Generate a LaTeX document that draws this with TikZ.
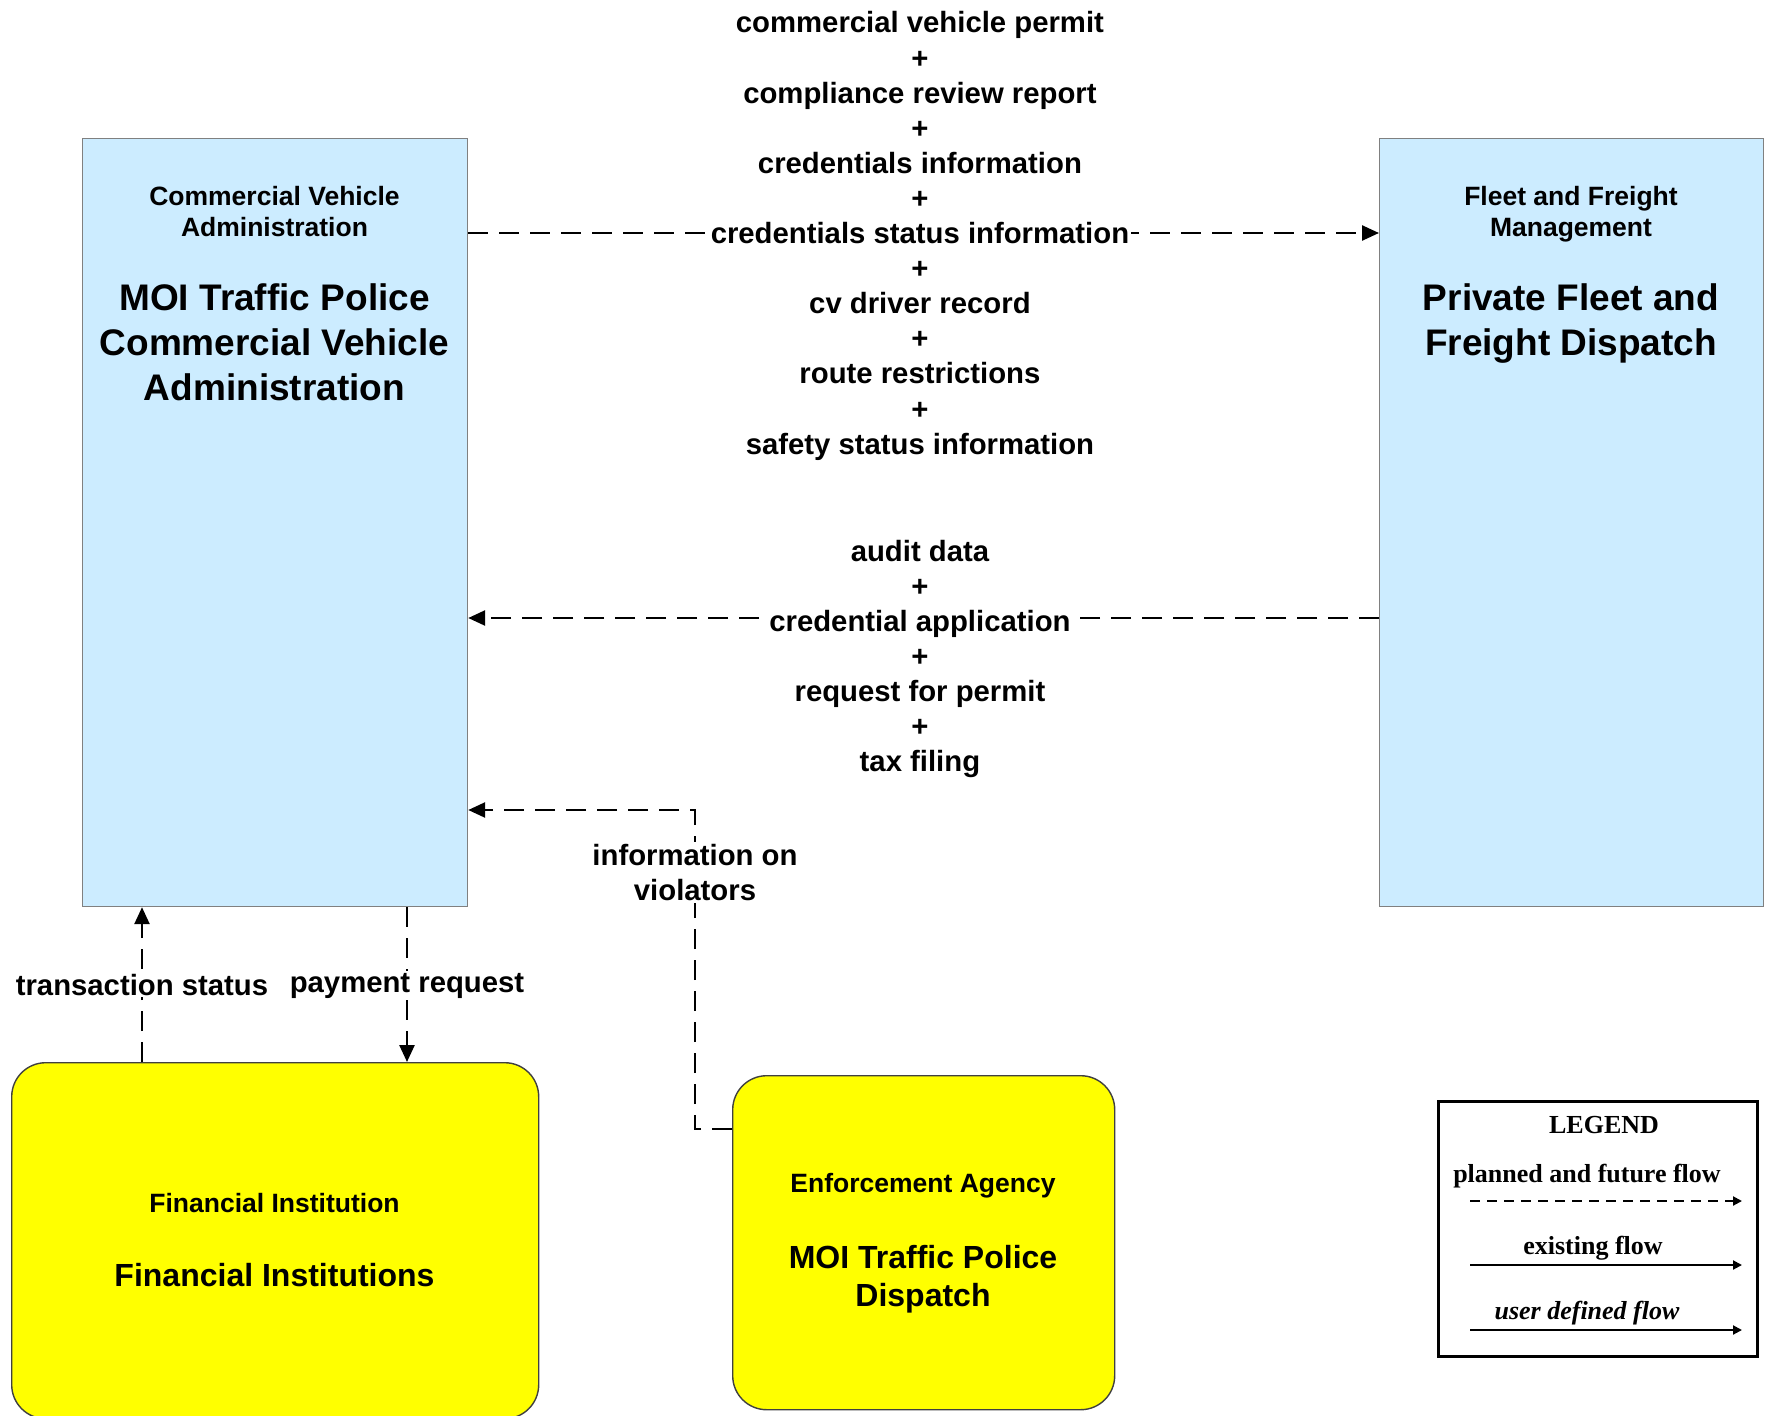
\documentclass[tikz,border=0pt]{standalone}
\usepackage{fontspec}
\setmainfont{Liberation Sans}
\newfontfamily\legendfont{Liberation Serif}
\usetikzlibrary{arrows.meta,calc}
\definecolor{boxblue}{HTML}{CCECFF}
\definecolor{boxyellow}{HTML}{FFFF00}
\begin{document}
\begin{tikzpicture}[x=1pt,y=-1pt,
  bluebox/.style={draw=gray, line width=1.2pt, fill=boxblue, inner sep=0pt, anchor=north west},
  yellowbox/.style={draw=black!75, line width=1.4pt, fill=boxyellow, rounded corners=34pt, inner sep=0pt, anchor=north west},
  smalltitle/.style={font=\fontsize{26.5}{31}\selectfont\bfseries, align=center, inner sep=0pt},
  bigtitle/.style={font=\fontsize{37}{45}\selectfont\bfseries, align=center, inner sep=0pt},
  midtitle/.style={font=\fontsize{32}{38}\selectfont\bfseries, align=center, inner sep=0pt},
  flowlabel/.style={font=\fontsize{29.3}{35.1}\selectfont\bfseries, align=center, fill=white, inner sep=2pt},
  flow/.style={line width=2.5pt, dash pattern=on 20pt off 11pt, -{Triangle[length=17pt,width=15pt]}},
  legtext/.style={font=\legendfont\fontsize{26}{30}\selectfont\bfseries, inner sep=0pt},
  legline/.style={line width=2pt, -{Triangle[length=9pt,width=9pt]}}
]
\useasboundingbox (0,0) rectangle (1765,1416);

% boxes
\node[bluebox, minimum width=385pt, minimum height=768pt] (cva) at (82,138) {};
\node[bluebox, minimum width=384pt, minimum height=768pt] (pffd) at (1379,138) {};
\node[yellowbox, minimum width=527pt, minimum height=356pt] (fin) at (11,1062) {};
\node[yellowbox, minimum width=382pt, minimum height=334pt] (ea) at (732,1075) {};

% box titles
\node[smalltitle] (cvas) at (274.5,211.5) {Commercial Vehicle\\Administration};
\node[bigtitle] (cvab) at (274.5,342) {MOI Traffic Police\\Commercial Vehicle\\Administration};
\node[smalltitle] (pffds) at (1571,214) {Fleet and Freight\\Management};
\node[bigtitle] (pffdb) at (1571,323.4) {Private Fleet and\\Freight Dispatch};
\node[smalltitle] (fins) at (274.5,1203) {Financial Institution};
\node[midtitle] (finb) at (274.5,1275) {Financial Institutions};
\node[smalltitle] (eas) at (923,1186) {Enforcement Agency};
\node[midtitle] (eab) at (923,1279) {MOI Traffic Police\\Dispatch};

% flows
\draw[flow] ([yshift=-95pt]cva.north east) -- node[flowlabel, pos=0.496, yshift=-3pt] (toplbl)
  {commercial vehicle permit\\+\\compliance review report\\+\\credentials information\\+\\credentials status information\\+\\cv driver record\\+\\route restrictions\\+\\safety status information}
  ([yshift=-95pt]pffd.north west);

\draw[flow] ([yshift=-480pt]pffd.north west) -- node[flowlabel, pos=0.504, yshift=-41pt] (botlbl)
  {audit data\\+\\credential application\\+\\request for permit\\+\\tax filing}
  ([yshift=-480pt]cva.north east);

\coordinate (ts) at ([xshift=131pt]fin.north west);
\coordinate (pr) at ([xshift=396pt]fin.north west);
\draw[flow] (ts) -- node[flowlabel] (tslbl) {transaction status} (ts |- cva.south);
\draw[flow] (pr |- cva.south) -- node[flowlabel, yshift=-1pt] (prlbl) {payment request} (pr);

\coordinate (iv) at (695,810);
\draw[flow] ([yshift=-54pt]ea.north west) -| (iv) -- (iv -| cva.east);
\node[flowlabel] (ivlbl) at (695,872.5) {information on\\violators};

% legend
\node[draw, line width=3pt, minimum width=319pt, minimum height=255pt, inner sep=0pt, anchor=north west] (leg) at (1437,1100) {};
\node[legtext] (legt) at (1604,1125) {LEGEND};
\node[legtext] (leg1) at (1587,1176) {planned and future flow};
\node[legtext] (leg2) at (1593,1248) {existing flow};
\node[legtext, font=\legendfont\fontsize{26}{30}\selectfont\bfseries\itshape] (leg3) at (1587,1313) {user defined flow};
\draw[legline, dash pattern=on 10pt off 7pt] ([xshift=33pt,yshift=-101pt]leg.north west) -- ([xshift=305pt,yshift=-101pt]leg.north west);
\draw[legline] ([xshift=33pt,yshift=-165pt]leg.north west) -- ([xshift=305pt,yshift=-165pt]leg.north west);
\draw[legline] ([xshift=33pt,yshift=-230pt]leg.north west) -- ([xshift=305pt,yshift=-230pt]leg.north west);
\end{tikzpicture}
\end{document}
